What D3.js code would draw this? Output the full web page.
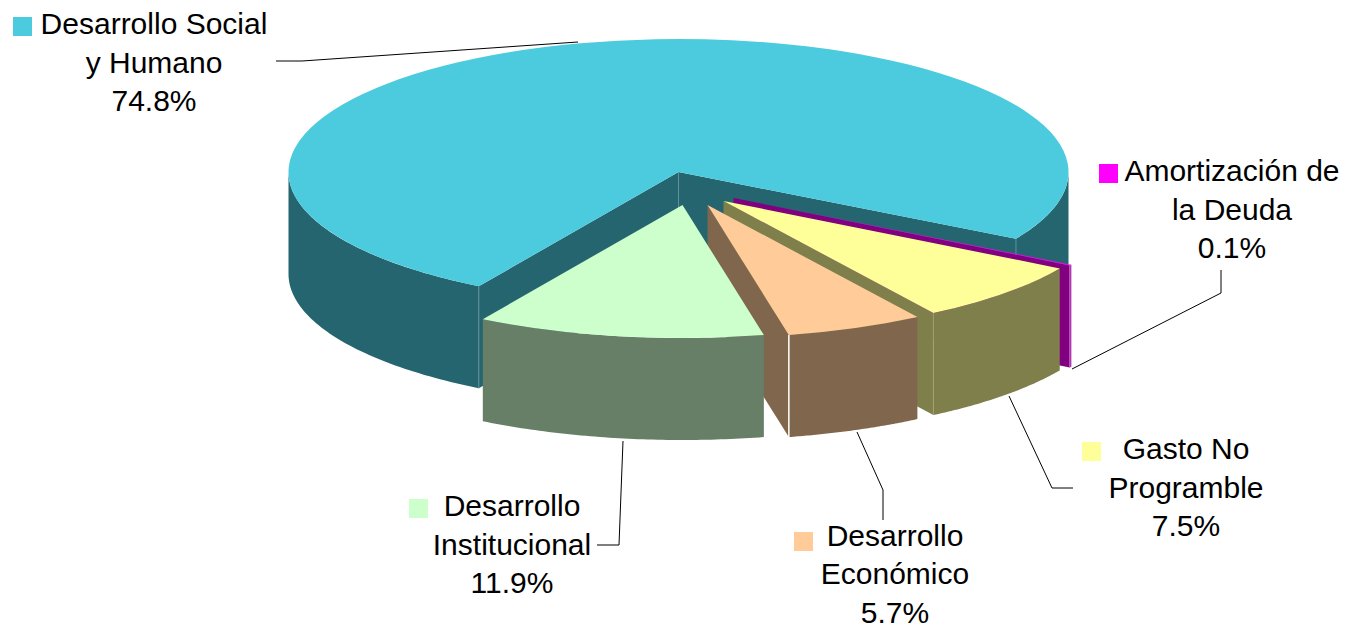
<!DOCTYPE html>
<html><head><meta charset="utf-8">
<script src="https://cdn.jsdelivr.net/npm/d3@7/dist/d3.min.js"></script>
<style>html,body{margin:0;padding:0;background:#fff;overflow:hidden}svg{display:block}</style>
</head><body><svg id="c" width="1358" height="629"></svg>
<script>
// ---- data ----
const categories = ["Desarrollo Social y Humano","Amortización de la Deuda","Gasto No Programble","Desarrollo Económico","Desarrollo Institucional"];
const values = [74.8,0.1,7.5,5.7,11.9];
const labelLines = [["Desarrollo Social","y Humano"],["Amortización de","la Deuda"],["Gasto No","Programble"],["Desarrollo","Económico"],["Desarrollo","Institucional"]];
// ---- styles / layout ----
const topColors = ["#4BCBDD","#FF00FF","#FFFF99","#FFCC99","#CCFFCC"];
const wallColors = ["#25656F","#800080","#7F7F4C","#7F664C","#667F66"];
const seamColors = ["#5E929B","#C45CC4","#A3A370","#FFFFFF","#8FA88F"];
const explode = [[0,0],[55,26],[45,29],[29,33],[4,33]];
const labelPos = [[154,25],[1232,172],[1186,450],[895,536.5],[512,507]];
const swatchPos = [[13,17],[1099,164],[1082,442],[794,532],[409,499]];
const leaders = [
  [[276,61],[302,61],[578,42]],
  [[1221,270],[1221,293],[1072,369]],
  [[1009,396],[1052,488],[1073,488]],
  [[857,432],[883,490],[883,520]],
  [[597,545],[619,545],[623,441]]
];
const cx=678.5, cy=172, R=390, K=0.341, D=102, FS=30, LH=38.5, SW=19;
const rad=d=>d*Math.PI/180;
const svg=d3.select("#c");
const pie=d3.pie().value(d=>d).sort(null).startAngle(rad(210.8)).endAngle(rad(210.8+360));
const arcs=pie(values);
const arc=d3.arc().innerRadius(0).outerRadius(R);
const line=d3.line();
const fmt=d3.format(".1f");

arcs.forEach((a,i)=>{
  const ox=cx+explode[i][0], oy=cy+explode[i][1];
  const P=(t,r=R)=>[ox+r*Math.sin(t), oy-K*r*Math.cos(t)];
  const g=svg.append("g");
  const wall=colorPts=>g.append("path").attr("d",line(colorPts)+"Z").attr("fill",wallColors[i]);
  const seam=t=>{const p=P(t);g.append("line").attr("x1",p[0]).attr("x2",p[0]).attr("y1",p[1]).attr("y2",p[1]+D)
      .attr("stroke",seamColors[i]).attr("stroke-width",i===3?1.5:1);};
  // radial (cut) walls facing the viewer
  const radial=t=>{const p=P(t);wall([[ox,oy],p,[p[0],p[1]+D],[ox,oy+D]]);};
  if(Math.sin(a.startAngle)<0) radial(a.startAngle);
  if(Math.sin(a.endAngle)>0) radial(a.endAngle);
  // outer curved walls (only the front half of the ellipse is visible)
  [[rad(90),rad(270)]].forEach(([lo,hi])=>{
    [0,2*Math.PI].forEach(shift=>{
      const s=Math.max(a.startAngle,lo+shift), e=Math.min(a.endAngle,hi+shift);
      if(e<=s) return;
      const ts=d3.range(0,61).map(k=>s+(e-s)*k/60);
      const topEdge=ts.map(t=>P(t));
      const botEdge=ts.slice().reverse().map(t=>{const p=P(t);return [p[0],p[1]+D];});
      wall(topEdge.concat(botEdge));
    });
  });
  // seams at the visible corners
  if(i===0){ seam(a.startAngle); seam(a.endAngle);
    g.append("line").attr("x1",ox).attr("x2",ox).attr("y1",oy).attr("y2",oy+D).attr("stroke",seamColors[i]); }
  else if(i===1||i===2||i===3){ seam(a.endAngle); if(i===1) seam(a.startAngle);}
  // top face
  g.append("path").attr("transform",`translate(${ox},${oy}) scale(1,${K})`).attr("d",arc(a)).attr("fill",topColors[i]);
});
// leader lines
svg.selectAll("path.leader").data(leaders).join("path").attr("class","leader")
  .attr("d",d=>line(d)).attr("fill","none").attr("stroke","#000").attr("stroke-width",1);
// labels
categories.forEach((c,i)=>{
  const [x,y]=labelPos[i];
  svg.append("rect").attr("x",swatchPos[i][0]).attr("y",swatchPos[i][1]).attr("width",SW).attr("height",SW).attr("fill",topColors[i]);
  labelLines[i].concat(fmt(values[i])+"%").forEach((t,j)=>{
    svg.append("text").attr("x",x).attr("y",y+j*LH).attr("dy","0.3em").attr("text-anchor","middle")
      .attr("font-family","'Liberation Sans',Arial,sans-serif").attr("font-size",FS).attr("fill","#000").text(t);
  });
});
</script></body></html>
